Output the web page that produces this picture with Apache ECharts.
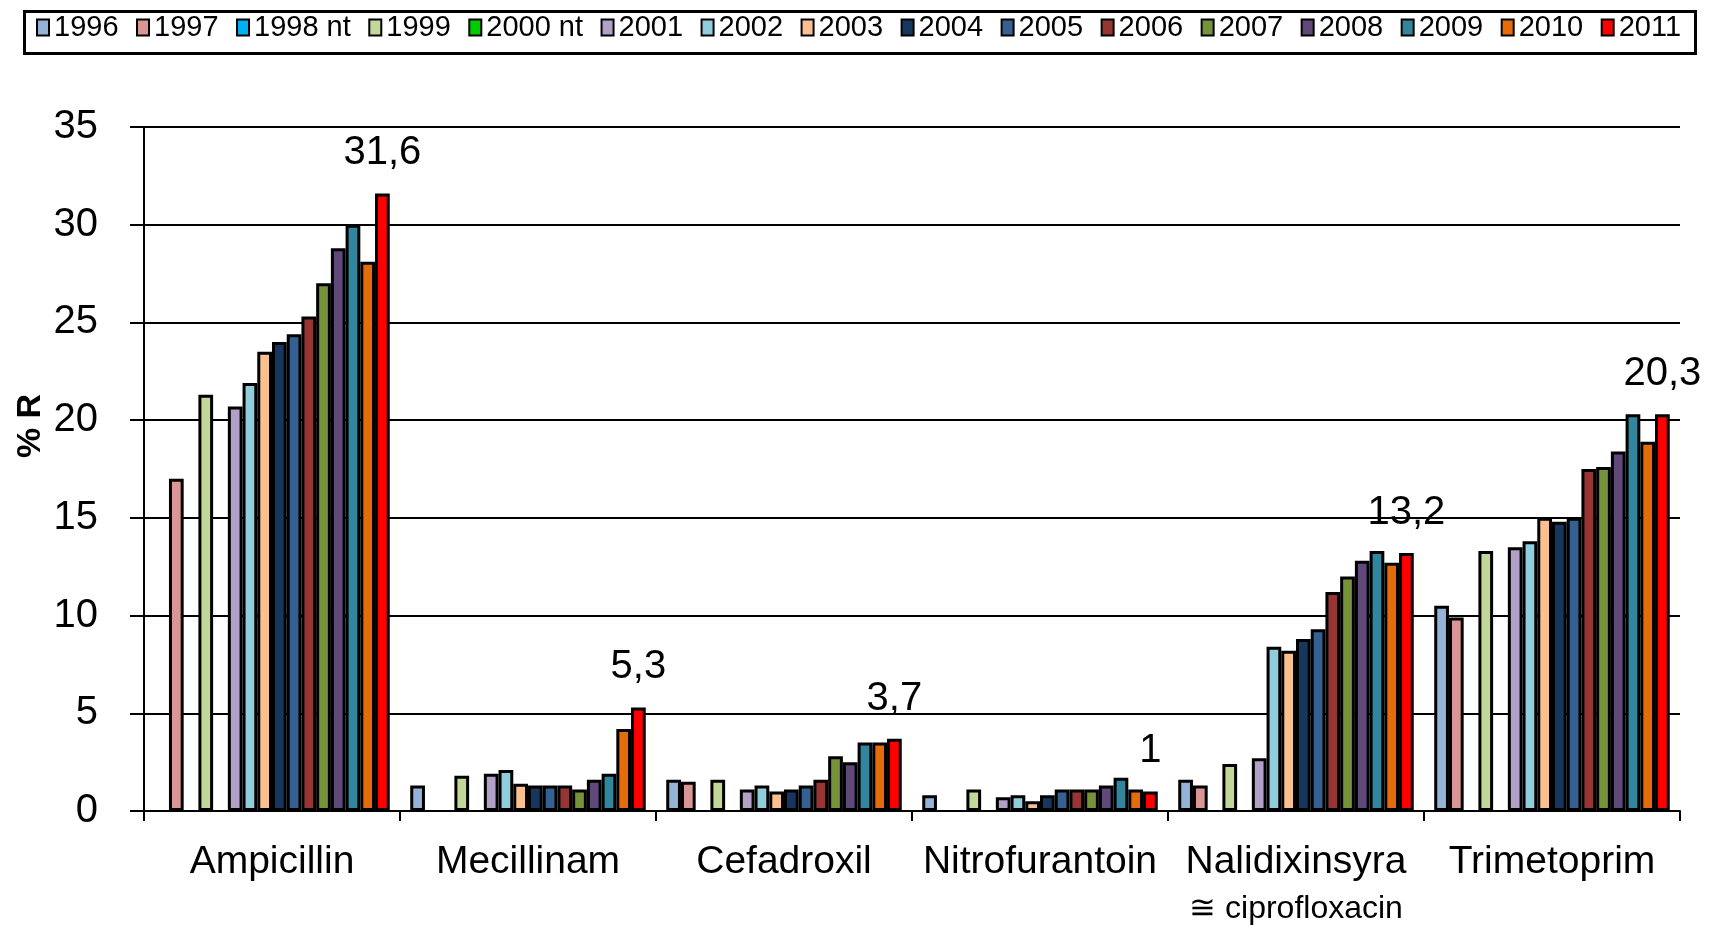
<!DOCTYPE html>
<html>
<head>
<meta charset="utf-8">
<script src="https://cdn.jsdelivr.net/npm/echarts@6/dist/echarts.min.js"></script>
<style>
html,body{margin:0;padding:0;background:#fff;}
#chart{width:1714px;height:925px;}
</style>
</head>
<body>
<div id="chart"></div>
<script>
// ---- Data ----
const categories = ['Ampicillin', 'Mecillinam', 'Cefadroxil', 'Nitrofurantoin', 'Nalidixinsyra', 'Trimetoprim'];
const categoryNotes = { 'Nalidixinsyra': '≅ ciprofloxacin' };
const years = ['1996', '1997', '1998 nt', '1999', '2000 nt', '2001', '2002', '2003', '2004', '2005', '2006', '2007', '2008', '2009', '2010', '2011'];
const yTicks = [0, 5, 10, 15, 20, 25, 30, 35];

const v1996 = [null, 1.3, 1.6, 0.8, 1.6, 10.5];
const v1997 = [17.0, null, 1.5, null, 1.3, 9.9];
const v1998 = [null, null, null, null, null, null];
const v1999 = [21.3, 1.8, 1.6, 1.1, 2.4, 13.3];
const v2000 = [null, null, null, null, null, null];
const v2001 = [20.7, 1.9, 1.1, 0.7, 2.7, 13.5];
const v2002 = [21.9, 2.1, 1.3, 0.8, 8.4, 13.8];
const v2003 = [23.5, 1.4, 1.0, 0.5, 8.2, 15.0];
const v2004 = [24.0, 1.3, 1.1, 0.8, 8.8, 14.8];
const v2005 = [24.4, 1.3, 1.3, 1.1, 9.3, 15.0];
const v2006 = [25.3, 1.3, 1.6, 1.1, 11.2, 17.5];
const v2007 = [27.0, 1.1, 2.8, 1.1, 12.0, 17.6];
const v2008 = [28.8, 1.6, 2.5, 1.3, 12.8, 18.4];
const v2009 = [30.0, 1.9, 3.5, 1.7, 13.3, 20.3];
const v2010 = [28.1, 4.2, 3.5, 1.1, 12.7, 18.9];
const v2011 = [31.6, 5.3, 3.7, 1.0, 13.2, 20.3];

const seriesValues = [v1996, v1997, v1998, v1999, v2000, v2001, v2002, v2003, v2004, v2005, v2006, v2007, v2008, v2009, v2010, v2011];
const labelledYear = '2011';

// ---- Styles ----
const colors = ['#95B3D7', '#DA9694', '#00B0F0', '#C4D79B', '#00CC00', '#B1A0C7', '#92CDDC', '#FAC090',
                '#17375E', '#366092', '#963634', '#76933C', '#60497A', '#31859C', '#E46C0A', '#FF0000'];
const FONT = '"Liberation Sans", Arial, sans-serif';

const series = years.map((y, i) => ({
  name: y,
  type: 'bar',
  data: seriesValues[i],
  barGap: '0%',
  barCategoryGap: '8%',
  itemStyle: { color: colors[i], borderColor: '#000', borderWidth: 3 },
  label: y === labelledYear ? {
    show: true, position: 'top', distance: 20,
    fontFamily: FONT, fontSize: 40, color: '#000',
    formatter: p => String(p.value).replace('.', ',')
  } : { show: false },
  emphasis: { disabled: true }
}));

const chart = echarts.init(document.getElementById('chart'), null, { renderer: 'canvas' });
chart.setOption({
  animation: false,
  backgroundColor: '#fff',
  color: colors,
  grid: { left: 144, right: 34, top: 127, bottom: 114, containLabel: false, outerBoundsMode: 'none' },
  legend: {
    data: years,
    left: 36, top: 13,
    icon: 'rect',
    itemWidth: 12, itemHeight: 16, itemGap: 17.5,
    textStyle: { fontFamily: FONT, fontSize: 29, color: '#000' },
    padding: 0,
    selectedMode: false
  },
  graphic: [
    { type: 'rect', left: 22, top: 9, shape: { width: 1671, height: 42 },
      style: { fill: 'none', stroke: '#000', lineWidth: 3 }, z: 100, silent: true },
    { type: 'text', x: 31, y: 426, rotation: Math.PI / 2,
      style: { text: '% R', fontFamily: FONT, fontSize: 34, fontWeight: 'bold', fill: '#000',
               align: 'center', verticalAlign: 'middle' } }
  ],
  xAxis: {
    type: 'category',
    data: categories,
    axisLine: { lineStyle: { color: '#000', width: 2 } },
    axisTick: { show: true, length: 10, lineStyle: { color: '#000', width: 2 } },
    axisLabel: {
      interval: 0, margin: 28,
      fontFamily: FONT, fontSize: 39, color: '#000', lineHeight: 46,
      formatter: v => categoryNotes[v] ? v + '\n{sub|' + categoryNotes[v] + '}' : v,
      rich: { sub: { fontFamily: FONT, fontSize: 32, color: '#000', lineHeight: 48 } }
    }
  },
  yAxis: {
    type: 'value',
    min: yTicks[0], max: yTicks[yTicks.length - 1], interval: 5,
    axisLine: { show: true, lineStyle: { color: '#000', width: 2 } },
    axisTick: { show: true, length: 14, lineStyle: { color: '#000', width: 2 } },
    splitLine: { show: true, lineStyle: { color: '#000', width: 2 } },
    axisLabel: { margin: 46, fontFamily: FONT, fontSize: 40, color: '#000' }
  },
  series: series
});
</script>
</body>
</html>
